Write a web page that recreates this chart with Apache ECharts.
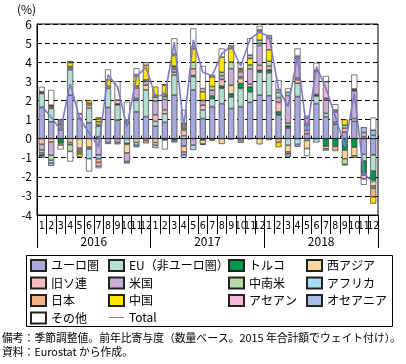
<!DOCTYPE html>
<html><head><meta charset="utf-8">
<script src="https://cdn.jsdelivr.net/npm/echarts@6/dist/echarts.min.js"></script>
<style>html,body{margin:0;padding:0;background:#fff}#c{width:406px;height:364px}</style>
</head><body><div id="c"></div>
<script>
const months = ['1','2','3','4','5','6','7','8','9','10','11','12','1','2','3','4','5','6','7','8','9','10','11','12','1','2','3','4','5','6','7','8','9','10','11','12'];
const years = ['2016','2017','2018'];
const yTicks = [-4,-3,-2,-1,0,1,2,3,4,5,6];

const euroArea = [1.64,0.88,0.45,2.28,1.05,0.83,0.1,1.63,0.97,0.8,1.4,1.15,0.65,0.85,2.28,-0.4,2.55,1.05,1.67,1.83,1.58,1.67,1.9,2.28,2.25,1.23,0.55,2.2,0.25,1.83,1.15,0.75,0.35,0.9,-0.82,-0.85];
const euNonEuro = [0.72,0.7,0,1.32,0,0.77,0.55,1.0,0.8,-0.25,0.62,1.4,0.25,0.45,1.05,0.15,0.7,0.45,0.42,0.8,0.6,0.96,0.55,1.2,1.2,0,-0.35,0.7,-0.1,0.4,0.17,0,0,0.15,-0.35,-0.85];
const turkey = [0,0,-0.25,0,0,0,0,0,0.05,-0.05,0,0,0,-0.07,-0.1,0,0.05,-0.08,0.14,0.12,0.17,0.26,0.25,0.1,0.15,0.17,0.12,0,0,0.08,-0.4,-0.4,-0.6,-0.45,-0.62,-0.5];
const westAsia = [0.05,-0.17,0,-0.2,-0.5,-0.45,0.08,0,0,-0.45,-0.2,0.25,-0.2,0,0,-0.3,0,-0.2,0,-0.28,0.44,0.26,0,-0.3,0,0,-0.35,0.17,-0.42,0,-0.13,0,-0.45,-0.45,0,-0.28];
const cis = [-0.3,0.05,0.12,0,-0.1,0.15,0,0.1,0.2,0.05,0.08,0,0.35,0.2,0.15,0.3,0.35,0.25,0,0.35,0,0.09,0.15,0.25,0.2,0.5,0.14,0.1,0,0,0,0.1,0.2,0,0.1,0];
const usa = [-0.3,-0.7,0.15,-0.12,-0.1,-0.1,-0.85,-0.2,-0.2,-0.45,0.55,0.2,0.72,0.55,0.15,-0.15,-0.35,0.25,0.3,0.2,0.87,0.26,0.8,1.05,0,0.25,1.45,1.05,0.2,1.2,0.7,0.55,0,1.45,0.22,-0.12];
const latAm = [-0.15,-0.26,0,-0.35,0,0,0.15,0,0,0,0.1,0.08,0.2,0.15,0.1,0.1,0.35,0,0.2,0.17,0.35,0,0.2,0.12,0.25,0.26,0,0,0,0,-0.1,0,-0.3,0,0,0];
const africa = [-0.1,-0.15,0,0.1,0,-0.5,-0.2,-0.08,0,0,-0.15,-0.1,-0.15,0.05,0,-0.15,-0.25,0,0,0,0,-0.1,0,0.15,0,0.15,0.17,-0.3,0.25,-0.2,0,0,0.15,0,0,0.17];
const japan = [0,0,-0.1,0.08,-0.1,0.1,-0.2,0,-0.1,0,0,-0.15,0.1,0.1,0.07,0.1,0,-0.05,-0.05,0,-0.05,-0.12,-0.03,0,-0.08,-0.2,-0.1,0.1,0.08,0.06,0.09,-0.25,-0.05,-0.1,-0.12,-0.45];
const china = [0.05,0.07,0.08,0.2,-0.15,0.15,0.15,0.35,0,0.12,0.5,0.75,0.45,0.45,0.55,0.1,0.7,0.45,0.5,0.8,0.7,0.1,0.35,0.45,0.6,-0.25,0,0,0,0,0,0,0.3,0.05,0,-0.35];
const asean = [-0.05,0.05,0.12,0,0.25,0,-0.2,0,0,0,0.1,0.17,-0.15,0.05,0.1,0,0.12,0.17,0.1,0,0.1,0.08,0,0,0.6,0,0,0,0.3,0,0.87,0.1,0,0.05,-0.2,0];
const oceania = [-0.1,-0.15,0.1,0.08,0,0,0.08,0,0,-0.1,-0.1,0,0,0,-0.1,0.05,0,0,0,0,0,0,0.17,0.1,0.17,0,-0.15,-0.13,0.12,0,0,0,0,0,0.28,0.27];
const others = [0.25,0.8,-0.22,-0.53,0.7,-0.67,-0.1,0.54,0.98,0.96,0.33,0,0,-0.5,0.8,0.7,0.95,1.18,-0.05,0.45,0.09,0.3,0.88,0.2,0,0.5,0.2,0.4,-0.4,0.4,0.3,0.3,0,0.75,-0.31,0.66];
const total = [1.7,1.12,0.45,2.86,1.05,0.3,-0.44,3.34,2.7,0.63,3.23,3.75,2.22,2.28,5.05,0.6,5.17,3.47,3.3,4.44,4.85,3.8,5.22,5.58,5.34,2.61,1.68,4.29,0.35,3.77,2.65,1.15,-0.4,2.35,-1.82,-2.3];

const seriesNames = ['ユーロ圏','EU（非ユーロ圏）','トルコ','西アジア','旧ソ連','米国','中南米','アフリカ','日本','中国','アセアン','オセアニア','その他'];
const seriesData = [euroArea,euNonEuro,turkey,westAsia,cis,usa,latAm,africa,japan,china,asean,oceania,others];
const seriesColors = ['#a8a8dc','#b3ded4','#00984a','#fcd69c','#f4bcbc','#caaed8','#b6dba6','#a9dcf4','#f4b488','#ffe400','#f4b8d6','#a6bee4','#ffffff'];

const FONT = '"Noto Sans CJK JP", sans-serif';
const NARROW = '"Liberation Sans Narrow","DejaVu Sans Condensed", sans-serif';

const chart = echarts.init(document.getElementById('c'), null, {renderer:'canvas'});
const series = seriesNames.map((n,i)=>({
  name:n, type:'bar', stack:'a', xAxisIndex:0, yAxisIndex:0, barWidth:6,
  itemStyle:{color:seriesColors[i], borderColor:'#222', borderWidth:0.6},
  emphasis:{disabled:true},
  data: seriesData[i].map(v => v === 0 ? '-' : v)
}));
series.push({
  name:'Total', type:'line', xAxisIndex:0, yAxisIndex:0, symbol:'none', z:10,
  lineStyle:{color:'#7b7cc3', width:1.6}, itemStyle:{color:'#7b7cc3'},
  data: total
});

const legendBase = {orient:'vertical', itemWidth:15, itemHeight:11, itemGap:4.5, padding:0,
  icon:'rect', symbolKeepAspect:true,
  textStyle:{fontSize:12, fontFamily:FONT, color:'#000'}, selectedMode:false, top:259};

chart.setOption({
  animation:false,
  grid:{left:37, right:28, top:24, bottom:149, show:true, borderColor:'#000', borderWidth:1},
  xAxis:[
    {type:'category', data:months, boundaryGap:true,
     axisLine:{onZero:true, lineStyle:{color:'#000', width:1}},
     axisTick:{show:true, inside:true, length:3, interval:0, lineStyle:{color:'#000'}},
     axisLabel:{show:false}, splitLine:{show:false}},
    {type:'category', data:months, position:'bottom', boundaryGap:true,
     axisLine:{onZero:false, lineStyle:{color:'#000', width:1}},
     axisTick:{show:true, length:19, interval:0, lineStyle:{color:'#000'}},
     axisLabel:{interval:0, margin:6, fontSize:10.5, fontFamily:NARROW, color:'#000'}},
    {type:'category', data:years, position:'bottom', boundaryGap:true,
     axisLine:{onZero:false, show:false},
     axisTick:{show:true, length:33, interval:0, lineStyle:{color:'#000'}},
     axisLabel:{interval:0, margin:20, fontSize:12, fontFamily:FONT, color:'#000'}}
  ],
  yAxis:{type:'value', min:yTicks[0], max:yTicks[yTicks.length-1], interval:1,
    axisLine:{show:true, lineStyle:{color:'#000'}}, axisTick:{show:false},
    axisLabel:{fontSize:12, fontFamily:FONT, color:'#000', margin:5},
    splitLine:{show:true, lineStyle:{color:'#000', type:[5,3], width:1}}},
  legend:[
    Object.assign({}, legendBase, {left:30, data:['ユーロ圏','旧ソ連','日本','その他']}),
    Object.assign({}, legendBase, {left:108, data:['EU（非ユーロ圏）','米国','中国',{name:'Total', icon:'path://M0,0H30V2H0Z'}]}),
    Object.assign({}, legendBase, {left:228, data:['トルコ','中南米','アセアン']}),
    Object.assign({}, legendBase, {left:306, data:['西アジア','アフリカ','オセアニア']})
  ],
  graphic:[
    {type:'rect', shape:{x:26.5, y:255.5, width:366, height:71}, style:{fill:'none', stroke:'#000', lineWidth:1}},
    {type:'text', left:17, top:3, style:{text:'(%)', font:'12px '+FONT, fill:'#000'}},
    {type:'text', left:2, top:333, style:{text:'備考：季節調整値。前年比寄与度（数量ベース。2015 年合計額でウェイト付け）。', font:'10.8px '+FONT, fill:'#000'}},
    {type:'text', left:2, top:347, style:{text:'資料：Eurostat から作成。', font:'10.8px '+FONT, fill:'#000'}}
  ],
  series: series
});
</script></body></html>
